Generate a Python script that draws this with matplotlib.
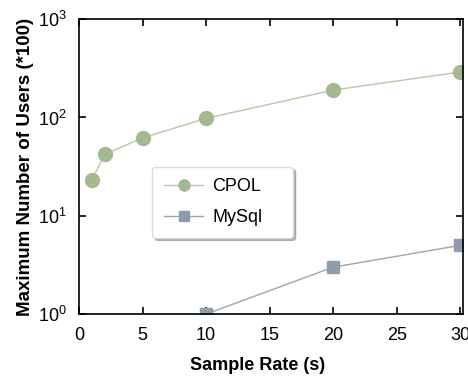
import matplotlib
matplotlib.use("Agg")
import matplotlib.pyplot as plt
from matplotlib.ticker import LogLocator, NullLocator

plt.rcParams['font.family'] = ['Liberation Sans', 'DejaVu Sans']
plt.rcParams['mathtext.default'] = 'regular'

cpol_x = [1, 2, 5, 10, 20, 30]
cpol_y = [23, 42, 62, 98, 190, 290]
mysql_x = [10, 20, 30]
mysql_y = [1.0, 3.0, 5.0]
xticks = [0, 5, 10, 15, 20, 25, 30]

fig = plt.figure(figsize=(4.68, 3.83), dpi=100)
ax = fig.add_axes([0.169, 0.180, 0.820, 0.770])

ax.plot(cpol_x, cpol_y, color='#b7c9a6', lw=1, marker='o', ms=10,
        mfc='#a3b98f', mec='#a3b98f', label='CPOL')
ax.plot(mysql_x, mysql_y, color='#9aa6b3', lw=1, marker='s', ms=9,
        mfc='#8f9caa', mec='#8f9caa', label='MySql')

ax.set_yscale('log')
ax.set_ylim(1, 1000)
ax.set_xlim(0, 30.2)
ax.set_xticks(xticks)
ax.yaxis.set_major_locator(LogLocator(base=10, numticks=5))
ax.yaxis.set_minor_locator(NullLocator())
ax.tick_params(direction='in', top=True, right=True, length=5, width=1.2,
               labelsize=13, pad=9)
for s in ax.spines.values():
    s.set_linewidth(1.2)

ax.set_xlabel('Sample Rate (s)', fontsize=13, fontweight='bold', labelpad=6)
ax.xaxis.set_label_coords(0.465, -0.145)
ax.set_ylabel('Maximum Number of Users (*100)', fontsize=13.5, fontweight='bold',
              labelpad=3)

leg = ax.legend(loc='upper left', bbox_to_anchor=(0.19, 0.258, 0.367, 0.242),
                mode='expand', borderaxespad=0,
                fontsize=13, fancybox=True,
                shadow={'color': '#888888', 'alpha': 0.6},
                framealpha=1, edgecolor='#dddddd', markerscale=0.8,
                handlelength=2.2, handletextpad=0.5, borderpad=0.65,
                labelspacing=0.75)

fig.savefig('out.png', dpi=100)
